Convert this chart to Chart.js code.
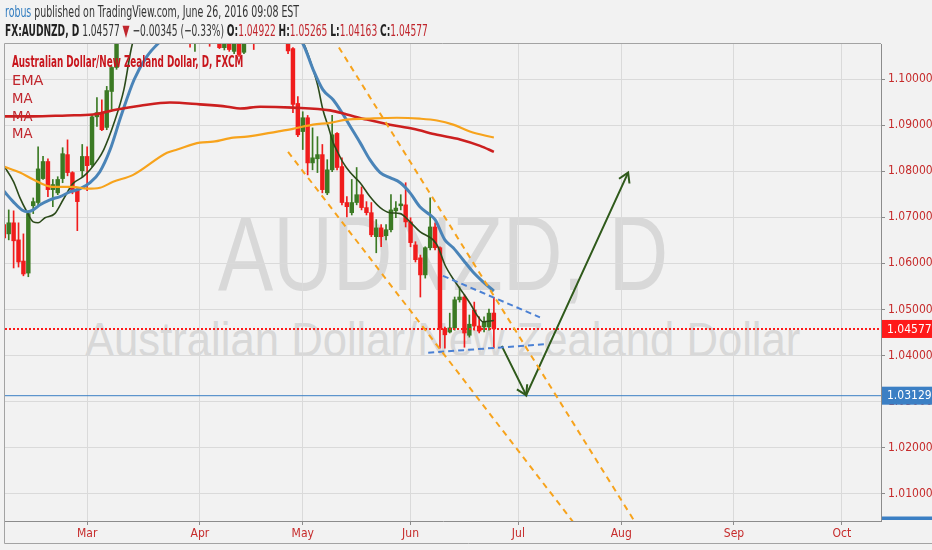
<!DOCTYPE html>
<html>
<head>
<meta charset="utf-8">
<script src="https://cdn.jsdelivr.net/npm/chart.js@4.4.0/dist/chart.umd.min.js"></script>
<style>
  html, body { margin: 0; padding: 0; background: #f2f2f2; }
  #wrap { position: relative; width: 932px; height: 550px; overflow: hidden; background: #f2f2f2;
          font-family: "Liberation Sans Narrow", "DejaVu Sans Condensed", "Liberation Sans", sans-serif; }
  .fit { position: absolute; white-space: nowrap; transform-origin: 0 0; z-index: 3; }
  .wm { position: absolute; white-space: nowrap; transform-origin: 0 0; z-index: 0; color: #d8d8d8;
        font-family: "Liberation Sans", Arial, sans-serif; line-height: 1; }
  #c { position: absolute; left: 0; top: 0; z-index: 1; }
  .hdr { font-size: 16px; line-height: 18px; color: #333; }
  .lg { font-size: 14px; line-height: 18px; color: #c0262d; }
  b { font-weight: bold; color: #222; }
  .rd { color: #c0262d; }
</style>
</head>
<body>
<div id="wrap">
  <div class="wm" style="left:218px;top:200px;font-size:106px" data-w="450">AUDNZD, D</div>
  <div class="wm" style="left:85px;top:315px;font-size:49px" data-w="715">Australian Dollar/New Zealand Dollar</div>
  <canvas id="c" width="932" height="550"></canvas>
  <div class="fit hdr" style="left:5px;top:3px" data-w="294"><span style="color:#2f7bbf">robus</span> published on TradingView.com, June 26, 2016 09:08 EST</div>
  <div class="fit hdr" style="left:5px;top:22px" data-w="423"><b>FX:AUDNZD, D</b> 1.04577 <span class="rd">&#9660;</span> &minus;0.00345 (&minus;0.33%) <b>O:</b><span class="rd">1.04922</span> <b>H:</b><span class="rd">1.05265</span> <b>L:</b><span class="rd">1.04163</span> <b>C:</b><span class="rd">1.04577</span></div>
  <div class="fit lg" style="left:12px;top:53px;font-size:15px;font-weight:bold;color:#c8161d" data-w="231">Australian Dollar/New Zealand Dollar, D, FXCM</div>
  <div class="fit lg" style="left:12px;top:71px" data-w="31">EMA</div>
  <div class="fit lg" style="left:12px;top:89px" data-w="20">MA</div>
  <div class="fit lg" style="left:12px;top:107px" data-w="20">MA</div>
  <div class="fit lg" style="left:12px;top:124px" data-w="20">MA</div>
</div>
<script>
// bar index 0 = 5 Feb 2016, one bar per trading day, last bar 24 Jun 2016
var monthTickIndex = [17, 40, 61, 83, 105, 126, 149, 171];
var monthTickLabels = ["Mar", "Apr", "May", "Jun", "Jul", "Aug", "Sep", "Oct"];
var priceTicks = [1.01, 1.02, 1.03, 1.04, 1.05, 1.06, 1.07, 1.08, 1.09, 1.10];

var candleOpen = [
  1.0684, 1.0664, 1.0688, 1.0651, 1.0605, 1.0579, 1.0725, 1.0732, 1.0784, 1.0821,
  1.0760, 1.0753, 1.0784, 1.0836, 1.0797, 1.0760, 1.0801, 1.0832, 1.0814, 1.0918,
  1.0925, 1.0895, 1.0973, 1.1025, 1.1090, 1.1145, 1.1175, 1.1165, 1.1215, 1.1240,
  1.1225, 1.1190, 1.1210, 1.1170, 1.1140, 1.1160, 1.1150, 1.1175, 1.1125, 1.1100,
  1.1120, 1.1160, 1.1140, 1.1110, 1.1125, 1.1068, 1.1105, 1.1060, 1.1100, 1.1058,
  1.1095, 1.1120, 1.1105, 1.1140, 1.1180, 1.1160, 1.1140, 1.1120, 1.1095, 1.1066,
  1.0947, 1.0886, 1.0916, 1.0818, 1.0827, 1.0836, 1.0753, 1.0803, 1.0882, 1.0810,
  1.0732, 1.0710, 1.0732, 1.0749, 1.0721, 1.0710, 1.0658, 1.0677, 1.0660, 1.0673,
  1.0714, 1.0725, 1.0727, 1.0690, 1.0640, 1.0612, 1.0575, 1.0634, 1.0679, 1.0634,
  1.0458, 1.0451, 1.0460, 1.0521, 1.0527, 1.0444, 1.0499, 1.0464, 1.0462, 1.0462,
  1.04922
];
var candleHigh = [
  1.0703, 1.0716, 1.0714, 1.0688, 1.0664, 1.0710, 1.0742, 1.0853, 1.0832, 1.0827,
  1.0782, 1.0788, 1.0851, 1.0868, 1.0799, 1.0764, 1.0858, 1.0853, 1.0923, 1.0960,
  1.0955, 1.0984, 1.1027, 1.1100, 1.1160, 1.1190, 1.1210, 1.1230, 1.1260, 1.1290,
  1.1250, 1.1230, 1.1235, 1.1195, 1.1175, 1.1180, 1.1190, 1.1200, 1.1150, 1.1140,
  1.1180, 1.1200, 1.1160, 1.1150, 1.1140, 1.1110, 1.1120, 1.1115, 1.1125, 1.1110,
  1.1140, 1.1150, 1.1160, 1.1200, 1.1210, 1.1190, 1.1165, 1.1145, 1.1110, 1.1068,
  1.0962, 1.0929, 1.0921, 1.0894, 1.0875, 1.0858, 1.0825, 1.0921, 1.0884, 1.0829,
  1.0745, 1.0782, 1.0808, 1.0766, 1.0734, 1.0732, 1.0695, 1.0684, 1.0684, 1.0749,
  1.0734, 1.0749, 1.0775, 1.0699, 1.0647, 1.0618, 1.0636, 1.0742, 1.0688, 1.0636,
  1.0462, 1.0492, 1.0527, 1.0549, 1.0532, 1.0488, 1.0516, 1.0484, 1.0484, 1.0501,
  1.05265
];
var candleLow = [
  1.0647, 1.0651, 1.0590, 1.0592, 1.0573, 1.0571, 1.0708, 1.0727, 1.0782, 1.0745,
  1.0723, 1.0749, 1.0775, 1.0790, 1.0751, 1.0671, 1.0788, 1.0758, 1.0810, 1.0897,
  1.0888, 1.0890, 1.0934, 1.1021, 1.1085, 1.1120, 1.1150, 1.1140, 1.1190, 1.1200,
  1.1170, 1.1160, 1.1150, 1.1120, 1.1110, 1.1130, 1.1120, 1.1110, 1.1069, 1.1060,
  1.1095, 1.1120, 1.1071, 1.1085, 1.1066, 1.1063, 1.1060, 1.1055, 1.1049, 1.1055,
  1.1085, 1.1064, 1.1090, 1.1120, 1.1140, 1.1125, 1.1100, 1.1090, 1.1055, 1.0927,
  1.0875, 1.0847, 1.0792, 1.0803, 1.0797, 1.0753, 1.0749, 1.0799, 1.0803, 1.0727,
  1.0701, 1.0705, 1.0727, 1.0716, 1.0705, 1.0658, 1.0623, 1.0636, 1.0651, 1.0668,
  1.0699, 1.0716, 1.0679, 1.0636, 1.0603, 1.0527, 1.0568, 1.0629, 1.0629, 1.0416,
  1.0416, 1.0449, 1.0455, 1.0516, 1.0418, 1.0440, 1.0455, 1.0449, 1.0451, 1.0455,
  1.04163
];
var candleClose = [
  1.0655, 1.0688, 1.0649, 1.0603, 1.0577, 1.0708, 1.0734, 1.0805, 1.0821, 1.0760,
  1.0771, 1.0782, 1.0838, 1.0797, 1.0755, 1.0734, 1.0832, 1.0812, 1.0918, 1.0927,
  1.0890, 1.0975, 1.1025, 1.1090, 1.1145, 1.1175, 1.1165, 1.1215, 1.1240, 1.1225,
  1.1190, 1.1210, 1.1170, 1.1140, 1.1160, 1.1150, 1.1175, 1.1125, 1.1100, 1.1120,
  1.1160, 1.1140, 1.1110, 1.1125, 1.1068, 1.1100, 1.1064, 1.1098, 1.1053, 1.1095,
  1.1120, 1.1105, 1.1140, 1.1180, 1.1160, 1.1140, 1.1120, 1.1095, 1.1061, 1.0945,
  1.0879, 1.0916, 1.0818, 1.0829, 1.0836, 1.0760, 1.0803, 1.0879, 1.0808, 1.0732,
  1.0723, 1.0732, 1.0749, 1.0721, 1.0710, 1.0662, 1.0677, 1.0658, 1.0673, 1.0716,
  1.0720, 1.0729, 1.0690, 1.0645, 1.0608, 1.0575, 1.0634, 1.0679, 1.0634, 1.0460,
  1.0445, 1.0460, 1.0521, 1.0527, 1.0449, 1.0468, 1.0464, 1.0453, 1.0473, 1.0492,
  1.04577
];

// indicator lines as [bar index, price]
var emaLine = [[0,1.0812],[2,1.0777],[3.3,1.0742],[4.7,1.0712],[6,1.0690],[7,1.0688],[8.4,1.0699],
  [10.4,1.0708],[12.1,1.0738],[14.1,1.0773],[16.2,1.0788],[17.6,1.0803],[19.2,1.0825],[20.4,1.0847],
  [22.5,1.0905],[24.5,1.0977],[26.2,1.1075],[30,1.1160],[40,1.1150],[50,1.1125],[57,1.1120],[60,1.1100],
  [61.3,1.1075],[63.1,1.1021],[64.1,1.0984],[65.1,1.0934],[66.2,1.0897],[67.2,1.0862],[68.2,1.0840],
  [69.2,1.0819],[70.7,1.0797],[72.7,1.0775],[74.7,1.0745],[76.8,1.0721],[78.8,1.0710],[80.9,1.0708],
  [82.9,1.0690],[84.9,1.0669],[87.6,1.0651],[88.6,1.0636],[90,1.0597],[92.1,1.0560],[93.7,1.0536],
  [95.1,1.0514],[96.8,1.0484],[97.8,1.0473],[100,1.0476]];
var maBlue = [[0,1.0757],[1.9,1.0734],[3.7,1.0716],[4.9,1.0712],[6,1.0716],[7.4,1.0727],[9.4,1.0738],
  [11.5,1.0745],[13.5,1.0755],[15.6,1.0762],[17.6,1.0775],[19.6,1.0799],[21.7,1.0847],[23.9,1.0919],
  [26.6,1.0999],[29.2,1.1049],[31.5,1.1077],[36,1.1115],[45,1.1135],[55,1.1125],[59,1.1100],[61.1,1.1075],
  [63.1,1.1021],[65.1,1.0977],[67.2,1.0955],[69,1.0927],[70.7,1.0897],[72.7,1.0862],[74.7,1.0825],
  [76.8,1.0797],[78.8,1.0786],[80.9,1.0775],[82.9,1.0753],[84.9,1.0723],[87,1.0705],[88,1.0695],
  [90,1.0651],[91.7,1.0634],[93.7,1.0608],[95.7,1.0582],[97.8,1.0560],[100,1.0540]];
var maRed = [[0,1.0919],[6,1.0919],[12.9,1.0921],[18.2,1.0923],[23.1,1.0934],[27.8,1.0942],[33.9,1.0949],
  [40,1.0945],[45.6,1.0940],[48.2,1.0936],[52.3,1.0940],[59,1.0938],[66.6,1.0932],[70,1.0923],
  [74.1,1.0912],[78.8,1.0901],[83.5,1.0892],[88.4,1.0879],[93.1,1.0869],[97.2,1.0855],[100,1.0842]];
var maOrange = [[0,1.0810],[3.3,1.0797],[6,1.0782],[10,1.0766],[14.1,1.0766],[17,1.0762],[19.6,1.0764],
  [22.3,1.0777],[26.4,1.0792],[33.3,1.0840],[35.4,1.0847],[40,1.0862],[42.7,1.0864],[46.8,1.0873],
  [49.6,1.0875],[55.8,1.0886],[59,1.0892],[63.1,1.0901],[66.6,1.0905],[70,1.0912],[74.1,1.0914],
  [80.2,1.0916],[84.9,1.0914],[88.4,1.0910],[91.7,1.0901],[95.1,1.0886],[100,1.0873]];

// hand drawings on the chart, [bar index, price]
var channelUpper = [[66.0,1.1109],[130.6,1.0008]];
var channelLower = [[58.0,1.0842],[117.9,1.0015]];
var wedgeUpper = [[89.6,1.0573],[109.4,1.0483]];
var wedgeLower = [[86.6,1.0406],[110.8,1.0425]];
var arrowPath = [[101.6,1.0421],[106.6,1.0314],[127.4,1.0797]];
var lastPrice = 1.04577;
var targetPrice = 1.03129;

var xMin = 0.24, xMax = 179;
var UP = "#3b7a24", DOWN = "#f01c1c";
var FONT = "'Liberation Sans Narrow', 'DejaVu Sans Condensed', Arial, sans-serif";

document.querySelectorAll("[data-w]").forEach(function (el) {
  el.style.transform = "scaleX(" + (parseFloat(el.dataset.w) / el.offsetWidth) + ")";
});

function pts(arr) { return arr.map(function (p) { return { x: p[0], y: p[1] }; }); }
var candleColor = candleClose.map(function (c, i) { return c >= candleOpen[i] ? UP : DOWN; });

function lineSet(data, color, width, extra) {
  var ds = { type: "line", data: pts(data), borderColor: color, borderWidth: width,
             pointRadius: 0, fill: false, order: 3 };
  for (var k in extra) ds[k] = extra[k];
  return ds;
}

var overlay = {
  id: "overlay",
  afterDraw: function (chart) {
    var c = chart.ctx, a = chart.chartArea, xs = chart.scales.x, ys = chart.scales.y;
    c.save();
    // frame
    c.strokeStyle = "#a3a3a3"; c.lineWidth = 1;
    c.beginPath();
    c.moveTo(a.left - 0.5, a.top - 0.5); c.lineTo(a.right, a.top - 0.5);
    c.moveTo(a.left - 0.5, a.top - 0.5); c.lineTo(a.left - 0.5, 543.5);
    c.lineTo(932, 543.5);
    c.stroke();

    // arrow heads
    c.strokeStyle = "#2f5a1b"; c.lineWidth = 2;
    [[0, 1], [1, 2]].forEach(function (seg) {
      var p0 = arrowPath[seg[0]], p1 = arrowPath[seg[1]];
      var x0 = xs.getPixelForValue(p0[0]), y0 = ys.getPixelForValue(p0[1]);
      var x1 = xs.getPixelForValue(p1[0]), y1 = ys.getPixelForValue(p1[1]);
      var ang = Math.atan2(y1 - y0, x1 - x0), len = 11;
      c.beginPath();
      c.moveTo(x1 - len * Math.cos(ang - 0.55), y1 - len * Math.sin(ang - 0.55));
      c.lineTo(x1, y1);
      c.lineTo(x1 - len * Math.cos(ang + 0.55), y1 - len * Math.sin(ang + 0.55));
      c.stroke();
    });

    // price labels on the axis
    c.font = "12px " + FONT;
    c.textBaseline = "middle";
    [[lastPrice, "#ff1a1a"], [targetPrice, "#3b7fc4"]].forEach(function (p) {
      var y = ys.getPixelForValue(p[0]);
      c.fillStyle = p[1];
      c.fillRect(a.right + 1, y - 9, 51, 18);
      c.fillStyle = "#ffffff";
      c.fillText(p[0].toFixed(5), a.right + 6, y + 0.5);
    });
    c.fillStyle = "#3b7fc4";
    c.fillRect(a.right + 1, a.bottom - 4.5, 51, 3.5);
    c.restore();
  }
};

new Chart(document.getElementById("c"), {
  type: "bar",
  data: {
    datasets: [
      // candle wicks
      { type: "bar", data: candleLow.map(function (l, i) { return { x: i, y: [l, candleHigh[i]] }; }),
        backgroundColor: candleColor, barThickness: 1, grouped: false, order: 11 },
      // candle bodies
      { type: "bar", data: candleOpen.map(function (o, i) { return { x: i, y: [o, candleClose[i]] }; }),
        backgroundColor: candleColor, barThickness: 3.8, minBarLength: 1, grouped: false, order: 10 },
      lineSet(maOrange, "#f7a31c", 2.2, { cubicInterpolationMode: "monotone" }),
      lineSet(maRed, "#cc1f1f", 2.6, { cubicInterpolationMode: "monotone" }),
      lineSet(maBlue, "#4a84b8", 3, { cubicInterpolationMode: "monotone" }),
      lineSet(emaLine, "#2b4a1a", 1.6, { cubicInterpolationMode: "monotone" }),
      lineSet([[xMin, lastPrice], [xMax, lastPrice]], "#ff1a1a", 2, { borderDash: [2, 2], order: 2 }),
      lineSet([[xMin, targetPrice], [xMax, targetPrice]], "#3b7fc4", 1, { order: 2 }),
      lineSet(channelUpper, "#f7a31c", 2, { borderDash: [6, 5], order: 1 }),
      lineSet(channelLower, "#f7a31c", 2, { borderDash: [6, 5], order: 1 }),
      lineSet(wedgeUpper, "#4a80d4", 2, { borderDash: [6, 4], order: 1 }),
      lineSet(wedgeLower, "#4a80d4", 2, { borderDash: [6, 4], order: 1 }),
      lineSet(arrowPath, "#2f5a1b", 2, { order: 1 })
    ]
  },
  options: {
    responsive: false,
    animation: false,
    events: [],
    layout: { padding: { left: 5, top: 44, right: 0, bottom: 7 } },
    plugins: { legend: { display: false }, tooltip: { enabled: false } },
    scales: {
      x: {
        type: "linear", min: xMin, max: xMax, offset: false,
        grid: { offset: false, color: "#dadada", tickLength: 4, tickColor: "#8c8c8c" },
        border: { color: "#8c8c8c" },
        ticks: {
          color: "#c62b2b", font: { family: FONT, size: 12 }, padding: 2, maxRotation: 0, autoSkip: false,
          callback: function (v) { return monthTickLabels[monthTickIndex.indexOf(v)]; }
        },
        afterBuildTicks: function (s) { s.ticks = monthTickIndex.map(function (v) { return { value: v }; }); },
        afterFit: function (s) { s.height = 22; }
      },
      y: {
        position: "right", min: 1.0041, max: 1.1076,
        grid: { color: "#dadada", tickLength: 4, tickColor: "#8c8c8c" },
        border: { color: "#8c8c8c" },
        ticks: {
          color: "#c62b2b", font: { family: FONT, size: 12 }, padding: 3,
          callback: function (v) { return v.toFixed(5); }
        },
        afterBuildTicks: function (s) { s.ticks = priceTicks.map(function (v) { return { value: v }; }); },
        afterFit: function (s) { s.width = 51; }
      }
    }
  },
  plugins: [overlay]
});
</script>
</body>
</html>
